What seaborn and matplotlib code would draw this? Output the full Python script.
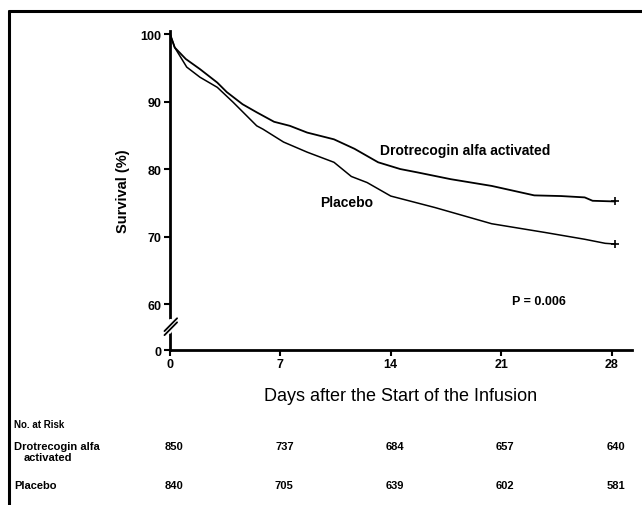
import numpy as np
import pandas as pd
import matplotlib
matplotlib.use("Agg")
import matplotlib.pyplot as plt
import matplotlib.transforms as mtransforms
from matplotlib.lines import Line2D
import seaborn as sns

sns.set_style("white")
plt.rcParams["font.family"] = ["Liberation Sans", "DejaVu Sans"]
plt.rcParams["text.color"] = "black"
plt.rcParams["axes.labelcolor"] = "black"
plt.rcParams["xtick.color"] = "black"
plt.rcParams["ytick.color"] = "black"

# Kaplan-Meier curves
drot_days = [0, 0.3, 1.0, 1.9, 3.0, 3.6, 4.6, 5.5, 6.6, 7.6, 8.7, 10.4, 11.7, 13.2,
             14.6, 15.7, 17.8, 20.4, 23.1, 24.8, 26.3, 26.8, 28.2]
drot_surv = [100, 98.0, 96.3, 94.8, 92.8, 91.4, 89.6, 88.4, 87.0, 86.4, 85.4, 84.4, 83.0, 81.0,
             80.0, 79.5, 78.5, 77.5, 76.1, 76.0, 75.8, 75.3, 75.2]
plac_days = [0, 0.3, 1.06, 1.9, 3.0, 4.0, 5.5, 5.9, 7.2, 8.7, 10.4, 11.5, 12.5, 14.0,
             16.8, 20.4, 23.8, 26.3, 27.6, 28.2]
plac_surv = [100, 98.0, 95.1, 93.6, 92.1, 89.9, 86.4, 85.9, 84.0, 82.5, 81.0, 78.9, 78.0, 76.0,
             74.3, 71.9, 70.6, 69.6, 69.0, 68.9]

x_ticks = [0, 7, 14, 21, 28]
risk_drot = ["850", "737", "684", "657", "640"]
risk_plac = ["840", "705", "639", "602", "581"]

y_zero = 53.2  # where the broken axis puts "0"

fig = plt.figure(figsize=(6.42, 5.06), dpi=100)
ax = fig.add_axes([170/642, 1-351/506, (632-170)/642, (351-32.3)/506])

sns.lineplot(x=drot_days, y=drot_surv, ax=ax, color="black", lw=1.3)
sns.lineplot(x=plac_days, y=plac_surv, ax=ax, color="black", lw=1.1)
ax.plot([drot_days[-1]], [drot_surv[-1]], marker="+", color="black", ms=6, mew=1.2)
ax.plot([plac_days[-1]], [plac_surv[-1]], marker="+", color="black", ms=6, mew=1.2)

ax.set_xlim(0, 29.3)
ax.set_ylim(y_zero, 100.4)
ax.set_xticks(x_ticks)
ax.set_xticklabels([str(t) for t in x_ticks], fontsize=9, fontweight="bold")
ax.set_yticks([y_zero, 60, 70, 80, 90, 100])
ax.set_yticklabels(["0", "60", "70", "80", "90", "100"], fontsize=9, fontweight="bold")
ax.tick_params(bottom=True, left=True, direction="out", length=4, width=1.5, pad=2)

for s in ["top", "right"]:
    ax.spines[s].set_visible(False)
for s in ["left", "bottom"]:
    ax.spines[s].set_linewidth(2)
    ax.spines[s].set_color("black")

# axis break
ax.plot([-0.05, 0.05], [56.0, 57.4], color="white", lw=4, clip_on=False, zorder=5)
ax.plot([-0.35, 0.45], [55.4, 57.3], color="black", lw=1.3, clip_on=False, zorder=6)
ax.plot([-0.35, 0.45], [56.0, 57.9], color="black", lw=1.3, clip_on=False, zorder=6)

ax.set_xlabel("Days after the Start of the Infusion", fontsize=13, labelpad=12)
ax.set_ylabel("Survival (%)", fontsize=10.5, fontweight="bold", labelpad=8)

ax.text(13.3, 82.8, "Drotrecogin alfa activated", fontsize=10, fontweight="bold",
        va="center", ha="left")
ax.text(9.5, 75.1, "Placebo", fontsize=10, fontweight="bold", va="center", ha="left")
ax.text(21.7, 60.4, "P = 0.006", fontsize=9, fontweight="bold", va="center", ha="left")

# number at risk table
fig.text(14/642, 1-425/506, "No. at Risk", fontsize=7, fontweight="bold", va="center")
fig.text(14/642, 1-447/506, "Drotrecogin alfa", fontsize=8, fontweight="bold", va="center")
fig.text(24/642, 1-458/506, "activated", fontsize=8, fontweight="bold", va="center")
fig.text(14/642, 1-486/506, "Placebo", fontsize=8, fontweight="bold", va="center")
trans = mtransforms.blended_transform_factory(ax.transData, fig.transFigure)
for t, a, b in zip(x_ticks, risk_drot, risk_plac):
    ax.text(t + 0.25, 1-447/506, a, transform=trans, fontsize=8, fontweight="bold",
            ha="center", va="center")
    ax.text(t + 0.25, 1-486/506, b, transform=trans, fontsize=8, fontweight="bold",
            ha="center", va="center")

# frame lines of the original figure
fig.add_artist(Line2D([9/642, 1], [1-12/506, 1-12/506], color="black", lw=2.2))
fig.add_artist(Line2D([9/642, 9/642], [0, 1-12/506], color="black", lw=2.2))

fig.savefig("out.png", dpi=100)
